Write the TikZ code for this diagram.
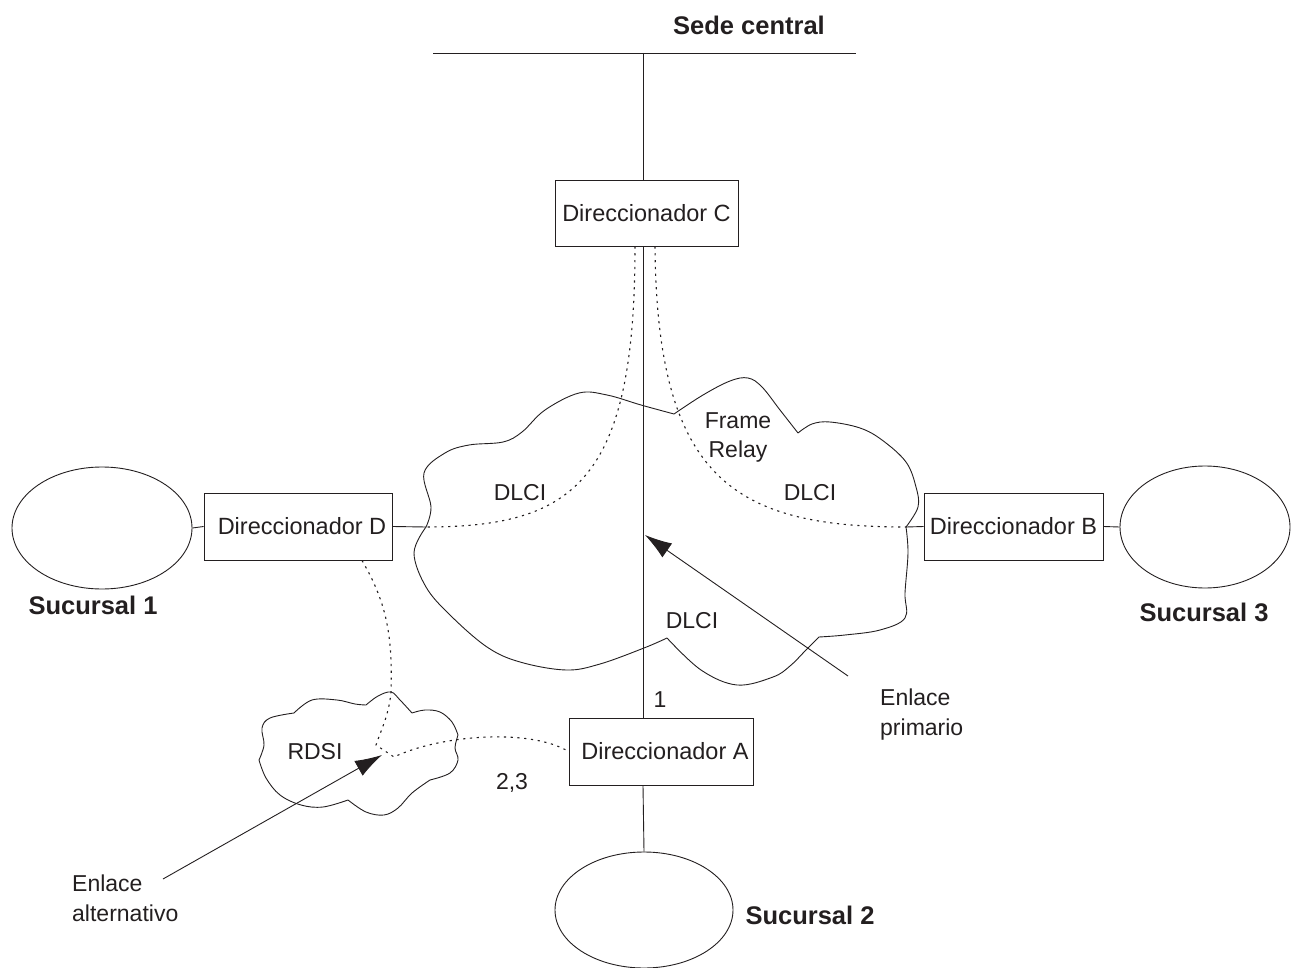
\documentclass[tikz,border=0pt]{standalone}
\usepackage{fontspec}
\setmainfont{Liberation Sans}
\usetikzlibrary{shapes.geometric,arrows.meta}
\definecolor{inkc}{HTML}{231F20}

\begin{document}
\begin{tikzpicture}[x=1pt,y=-1pt,
  wire/.style={draw=inkc, line width=0.9pt},
  router/.style={wire, rectangle, inner sep=0pt, text=inkc,
    font=\fontsize{23.5}{28}\selectfont},
  site/.style={wire, ellipse, inner sep=0pt},
  lbl/.style={text=inkc, inner sep=0pt, font=\fontsize{23}{30}\selectfont},
  sitelbl/.style={text=inkc, inner sep=0pt, font=\bfseries\fontsize{25.5}{30}\selectfont},
  vc/.style={draw=inkc, line width=1.1pt, dash pattern=on 2.2pt off 4.6pt},
  cloudline/.style={draw=inkc, line width=0.9pt},
  pointer/.style={wire, -{Latex[length=27pt,width=17pt]}}
]
\useasboundingbox (0,0) rectangle (1291,968);

% headquarters bus
\coordinate (busL) at (433,53);
\coordinate (busR) at (856,53);
\coordinate (bus) at (643,53);
\draw[wire] (busL) -- (busR);
\node[sitelbl] (hq) at (749,25) {Sede central};

% routers
\node[router, minimum width=183pt, minimum height=66pt] (c) at (646.5,213) {Direccionador C};
\node[router, minimum width=188pt, minimum height=67pt] (d) at (298,526.5) {\hspace*{8pt}Direccionador D};
\node[router, minimum width=179pt, minimum height=67pt] (b) at (1013.5,526.5) {Direccionador B};
\node[router, minimum width=184pt, minimum height=67pt] (a) at (661,751.5) {\hspace*{8pt}Direccionador A};

% branch sites
\node[site, minimum width=180pt, minimum height=122pt] (s1) at (102,528) {};
\node[site, minimum width=170pt, minimum height=122pt] (s3) at (1205,527) {};
\node[site, minimum width=178pt, minimum height=116pt] (s2) at (644,910) {};
\node[sitelbl] (s1l) at (93,605) {Sucursal 1};
\node[sitelbl] (s3l) at (1204,612) {Sucursal 3};
\node[sitelbl] (s2l) at (810,915) {Sucursal 2};

% Frame Relay cloud
\coordinate (frW) at (426,527);
\coordinate (frE) at (906,527);
\draw[cloudline]
  plot[smooth, tension=0.6] coordinates {(426,527) (431,507) (424,473) (445,453) (469,445) (503,442) (522,432) (545,410) (579,393) (607,395) (641,405) (674,414)}
  plot[smooth, tension=0.6] coordinates {(674,414) (703,395) (730,381) (748,378) (762,387) (780,410) (798,433)}
  plot[smooth, tension=0.6] coordinates {(798,433) (812,424) (830,422) (860,428) (882,440) (906,462) (916,487) (918,507) (906,527)}
  plot[smooth, tension=0.6] coordinates {(906,527) (908,553) (905,593) (905,618) (880,630) (845,635) (819,637)}
  plot[smooth, tension=0.6] coordinates {(819,637) (806,650) (790,666) (773,677) (737,685) (701,670) (667,638)}
  plot[smooth, tension=0.6] coordinates {(667,638) (644,648) (600,664) (566,670) (520,662) (487,647) (450,615) (426,587) (414,553) (426,527)};

% RDSI cloud
\draw[cloudline]
  plot[smooth, tension=0.6] coordinates {(366,705) (378,696) (391,692) (400,700) (412,713)}
  plot[smooth, tension=0.6] coordinates {(412,713) (425,710) (440,712) (452,722) (458,735)}
  plot[smooth, tension=0.6] coordinates {(458,735) (455,748) (458,760) (450,773) (430,780)}
  plot[smooth, tension=0.6] coordinates {(430,780) (412,793) (398,808) (384,815) (366,812) (348,800)}
  plot[smooth, tension=0.6] coordinates {(348,800) (323,807) (301,805) (280,795) (266,778) (259,760)}
  plot[smooth, tension=0.6] coordinates {(259,760) (264,745) (262,728) (270,718) (294,713)}
  plot[smooth, tension=0.6] coordinates {(294,713) (312,700) (337,700) (355,704) (366,705)};

% physical links
\draw[wire] (bus) -- (bus |- c.north);
\draw[wire] (c.south -| bus) -- (a.north -| bus);
\draw[wire] (a.south -| bus) -- (s2.north);
\draw[wire] (s1.east) -- (d.west);
\draw[wire] (d.east) -- (frW);
\draw[wire] (b.west) -- (frE);
\draw[wire] (b.east) -- (s3.west);

% virtual circuits (DLCI)
\draw[vc] ([xshift=-11.5pt]c.south) .. controls (635,480) and (575,527) .. (frW);
\draw[vc] ([xshift=8.5pt]c.south) .. controls (657,480) and (735,527) .. (frE);

% backup path through RDSI
\coordinate (rdsiTop) at (391,692);
\coordinate (rdsiIn) at (376,745);
\coordinate (rdsiOut) at (394,757);
\draw[vc] ([xshift=64pt]d.south) .. controls (385,600) and (393,632) .. (rdsiTop)
  .. controls (389,715) and (381,730) .. (rdsiIn) -- (rdsiOut)
  .. controls (440,735) and (530,728) .. (a.west);

% labels
\node[lbl] (dlciL) at (520,493) {DLCI};
\node[lbl] (dlciR) at (810,493) {DLCI};
\node[lbl] (dlciB) at (692,621) {DLCI};
\node[lbl, align=center, font=\fontsize{23}{29}\selectfont] (fr) at (738,437) {Frame\\Relay};
\node[lbl] (rdsi) at (315,752) {RDSI};
\node[lbl] (one) at (660,700) {1};
\node[lbl] (twothree) at (512,783) {2,3};
\node[lbl, align=left, anchor=west] (prim) at (880,715) {Enlace\\primario};
\node[lbl, align=left, anchor=west] (alt) at (72,898) {Enlace\\alternativo};

% pointers
\coordinate (primTail) at (848,676);
\coordinate (primTip) at (645,535);
\coordinate (altTail) at (163,879);
\coordinate (altTip) at (382,755);
\draw[pointer] (primTail) -- (primTip);
\draw[pointer] (altTail) -- (altTip);
\end{tikzpicture}
\end{document}
